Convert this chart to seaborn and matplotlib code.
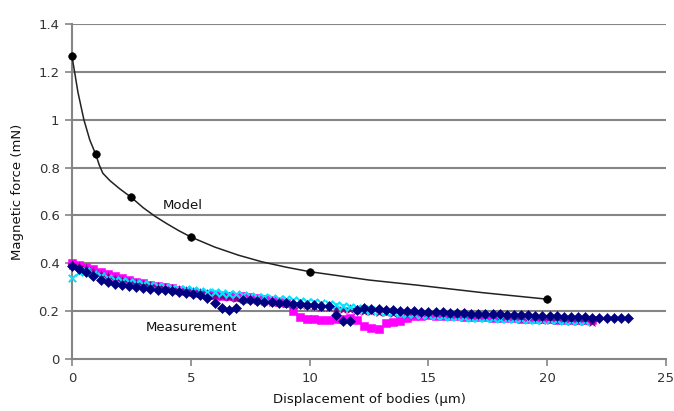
import numpy as np
import pandas as pd
import matplotlib
matplotlib.use("Agg")
import matplotlib.pyplot as plt
import seaborn as sns

# ---- data ----
model_line_x = [0, 0.25, 0.5, 0.75, 1, 1.15, 1.3, 1.6, 2, 2.5, 3, 3.5, 4, 4.5, 5,
                6, 7, 8, 9, 10, 12.5, 14.5, 17.3, 20]
model_line_y = [1.265, 1.115, 1.0, 0.915, 0.855, 0.81, 0.776, 0.745, 0.712, 0.675,
                0.632, 0.596, 0.565, 0.536, 0.51, 0.468, 0.434, 0.406, 0.384,
                0.365, 0.33, 0.309, 0.277, 0.25]
model_pts_x = [0, 1, 2.5, 5, 10, 20]
model_pts_y = [1.265, 0.855, 0.675, 0.51, 0.365, 0.25]

step = 0.3
navy_y = [0.390, 0.375, 0.362, 0.345, 0.330, 0.322, 0.315, 0.310, 0.306, 0.302,
          0.298, 0.294, 0.290, 0.287, 0.283, 0.280, 0.276, 0.272, 0.266, 0.255,
          0.232, 0.212, 0.205, 0.215, 0.245, 0.246, 0.243, 0.240, 0.238, 0.235,
          0.233, 0.230, 0.228, 0.226, 0.224, 0.222, 0.220, 0.185, 0.160, 0.158,
          0.205, 0.212, 0.210, 0.208, 0.206, 0.204, 0.202, 0.201, 0.200, 0.198,
          0.197, 0.196, 0.195, 0.194, 0.192, 0.191, 0.190, 0.189, 0.188, 0.187,
          0.186, 0.185, 0.184, 0.183, 0.182, 0.181, 0.180, 0.179, 0.178, 0.177,
          0.176, 0.175, 0.174, 0.173, 0.172, 0.171, 0.171, 0.170, 0.170]
magenta_y = [0.400, 0.392, 0.385, 0.375, 0.365, 0.355, 0.345, 0.338, 0.330, 0.323,
             0.316, 0.310, 0.305, 0.300, 0.295, 0.290, 0.285, 0.280, 0.276, 0.272,
             0.268, 0.264, 0.262, 0.260, 0.262, 0.258, 0.255, 0.250, 0.246, 0.240,
             0.232, 0.200, 0.175, 0.168, 0.166, 0.165, 0.165, 0.166, 0.168, 0.170,
             0.165, 0.140, 0.128, 0.125, 0.150, 0.155, 0.158, 0.170, 0.178, 0.180,
             0.182, 0.181, 0.180, 0.179, 0.178, 0.177, 0.176, 0.175, 0.174, 0.173,
             0.172, 0.171, 0.170, 0.169, 0.168, 0.168, 0.167, 0.166, 0.165, 0.165,
             0.164, 0.163, 0.162, 0.161]
cyan_y = [0.340, 0.365, 0.368, 0.355, 0.345, 0.338, 0.331, 0.326, 0.321, 0.316,
          0.312, 0.308, 0.304, 0.300, 0.297, 0.294, 0.291, 0.288, 0.285, 0.282,
          0.279, 0.276, 0.273, 0.270, 0.267, 0.264, 0.261, 0.258, 0.255, 0.252,
          0.249, 0.246, 0.243, 0.240, 0.237, 0.234, 0.230, 0.226, 0.222, 0.218,
          0.214, 0.210, 0.206, 0.202, 0.198, 0.195, 0.192, 0.189, 0.186, 0.184,
          0.182, 0.180, 0.178, 0.176, 0.175, 0.174, 0.173, 0.172, 0.171, 0.170,
          0.169, 0.168, 0.167, 0.166, 0.165, 0.164, 0.163, 0.162, 0.161, 0.160,
          0.159, 0.158, 0.157]
purple_y = [0.392, 0.385, 0.375, 0.365, 0.352, 0.342, 0.334, 0.327, 0.320, 0.314,
            0.309, 0.304, 0.299, 0.295, 0.291, 0.287, 0.283, 0.279, 0.275, 0.271,
            0.267, 0.263, 0.259, 0.255, 0.252, 0.249, 0.246, 0.243, 0.240, 0.237,
            0.234, 0.231, 0.228, 0.225, 0.222, 0.219, 0.216, 0.213, 0.210, 0.207,
            0.204, 0.202, 0.200, 0.198, 0.196, 0.194, 0.192, 0.190, 0.188, 0.186,
            0.185, 0.183, 0.182, 0.180, 0.179, 0.178, 0.177, 0.176, 0.175, 0.174,
            0.172, 0.171, 0.170, 0.168, 0.167, 0.166, 0.165, 0.164, 0.162, 0.161,
            0.160, 0.158, 0.157, 0.156]

x_ticks = [0, 5, 10, 15, 20, 25]
y_ticks = [0, 0.2, 0.4, 0.6, 0.8, 1.0, 1.2, 1.4]
y_tick_labels = ["0", "0.2", "0.4", "0.6", "0.8", "1", "1.2", "1.4"]

def xs(vals):
    return np.round(np.arange(len(vals)) * step, 2)

sns.set_style("white")
plt.rcParams['font.family'] = ['DejaVu Sans']

fig = plt.figure(figsize=(6.74, 4.11), dpi=100)
ax = fig.add_axes([72 / 674, 52 / 411, 594 / 674, 335 / 411])

grid_c = "#858585"
for yv in y_ticks[1:]:
    ax.axhline(yv, color=grid_c, lw=1.5, zorder=0)

series = [
    (magenta_y, "#ff00ff", "s", 28, 0.4),
    (purple_y, "#800080", "*", 50, 0.4),
    (cyan_y, "#00e5ff", "x", 28, 1.5),
    (navy_y, "#000080", "D", 26, 0.4),
]
for vals, col, mk, sz, lw in series:
    df = pd.DataFrame({"x": xs(vals), "y": vals})
    if mk == "x":
        sns.scatterplot(data=df, x="x", y="y", ax=ax, color=col, marker=mk,
                        s=sz, linewidth=lw, zorder=3)
    else:
        sns.scatterplot(data=df, x="x", y="y", ax=ax, color=col, marker=mk,
                        s=sz, edgecolor=col, linewidth=lw, zorder=3)
for coll in ax.collections:
    coll.set_clip_on(False)

dfl = pd.DataFrame({"x": model_line_x, "y": model_line_y})
sns.lineplot(data=dfl, x="x", y="y", ax=ax, color="#222222", lw=1.1, zorder=4)
dfp = pd.DataFrame({"x": model_pts_x, "y": model_pts_y})
sns.scatterplot(data=dfp, x="x", y="y", ax=ax, color="black", s=30,
                edgecolor="black", zorder=5, clip_on=False)

ax.text(4.65, 0.64, "Model", fontsize=9.5, ha="center", va="center", color="#111111")
ax.text(5.05, 0.131, "Measurement", fontsize=9.5, ha="center", va="center", color="#111111")

ax.set_xlim(0, 25)
ax.set_ylim(0, 1.4)
ax.set_xticks(x_ticks)
ax.set_xticklabels([str(v) for v in x_ticks])
ax.set_yticks(y_ticks)
ax.set_yticklabels(y_tick_labels)
ax.tick_params(axis="both", direction="out", length=5, width=1.2, color=grid_c,
               labelsize=9.5, labelcolor="#333333", left=True, bottom=True, pad=4)
ax.set_xlabel("Displacement of bodies (μm)", fontsize=9.5, color="#111111", labelpad=6)
ax.set_ylabel("Magnetic force (mN)", fontsize=9.5, color="#111111", labelpad=10)

for s in ["top", "right"]:
    ax.spines[s].set_visible(False)
for s in ["left", "bottom"]:
    ax.spines[s].set_color(grid_c)
    ax.spines[s].set_linewidth(1.5)

fig.savefig("out.png", dpi=100)
